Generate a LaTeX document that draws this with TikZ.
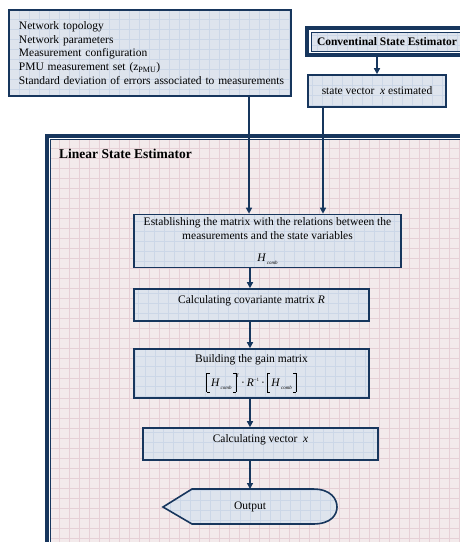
\documentclass[tikz,border=0pt]{standalone}
\usepackage{fontspec}
\setmainfont{Liberation Serif}
\usetikzlibrary{arrows.meta}
\definecolor{navy}{HTML}{17365D}
\definecolor{boxfill}{HTML}{DEE4ED}
\definecolor{boxgrid}{HTML}{CCD7E7}
\definecolor{framefill}{HTML}{F3EAEB}
\definecolor{framegrid}{HTML}{E6D0D6}
\newcommand\Hcomb{\textit{H}\raisebox{-3pt}{\fontsize{5}{5}\selectfont\textit{\,comb}}}
\newcommand\tinytxt[1]{{\fontsize{5}{5}\selectfont #1}}
\newcommand\lbrk{\raisebox{-6pt}{\rule{0.6pt}{19pt}}\raisebox{-6pt}{\rule{2.5pt}{0.6pt}}\hspace{-2.5pt}\raisebox{12.4pt}{\rule{2.5pt}{0.6pt}}\hspace{1.5pt}}
\newcommand\rbrk{\hspace{1.5pt}\raisebox{12.4pt}{\rule{2.5pt}{0.6pt}}\hspace{-2.5pt}\raisebox{-6pt}{\rule{2.5pt}{0.6pt}}\raisebox{-6pt}{\rule{0.6pt}{19pt}}}
\begin{document}
\begin{tikzpicture}[x=1pt,y=-1pt,
  gridded/.style={path picture={\draw[boxgrid,line width=0.4pt] (path picture bounding box.south west) grid[step=10pt] (path picture bounding box.north east);}},
  box/.style={draw=navy,line width=1.6pt,fill=boxfill,gridded,inner sep=2pt,
    font=\fontsize{11.5}{13.7}\selectfont,align=center},
  onelow/.style={text height=8pt,text depth=11pt},
  arr/.style={draw=navy,line width=1.4pt,-{Triangle[length=6pt,width=6pt]}},
  framestyle/.style={draw=navy,line width=4pt,fill=framefill,
    path picture={
      \draw[framegrid,line width=0.5pt] (path picture bounding box.south west) grid[step=10pt] (path picture bounding box.north east);
      \draw[white,line width=1pt] ([shift={(2.5pt,2.5pt)}]path picture bounding box.south west) rectangle ([shift={(-2.5pt,-2.5pt)}]path picture bounding box.north east);
      \draw[navy,line width=1.2pt] ([shift={(3.6pt,3.6pt)}]path picture bounding box.south west) rectangle ([shift={(-3.6pt,-3.6pt)}]path picture bounding box.north east);}},
  csestyle/.style={draw=navy,line width=4pt,fill=boxfill,
    font=\fontsize{11.5}{13}\selectfont\bfseries,
    path picture={
      \draw[boxgrid,line width=0.4pt] (path picture bounding box.south west) grid[step=10pt] (path picture bounding box.north east);
      \draw[white,line width=1.5pt] ([shift={(2.75pt,2.75pt)}]path picture bounding box.south west) rectangle ([shift={(-2.75pt,-2.75pt)}]path picture bounding box.north east);
      \draw[navy,line width=1pt] ([shift={(4pt,4pt)}]path picture bounding box.south west) rectangle ([shift={(-4pt,-4pt)}]path picture bounding box.north east);}}
]
\useasboundingbox (0,0) rectangle (460,542);
\clip (0,0) rectangle (460,542);
\fill[white] (0,0) rectangle (460,542);

% frame
\node[framestyle,minimum width=425pt,minimum height=424pt,inner sep=0pt] (frame) at (259.5,348) {};
\node[anchor=base west,font=\fontsize{13.5}{15}\selectfont\bfseries,inner sep=0pt] (lse) at (59,158) {Linear State Estimator};

% top boxes
\node[box,minimum width=282pt,minimum height=86pt,text width=262pt,align=left] (inputs) at (150,53)
 {\mbox{Network topology}\\\mbox{Network parameters}\\\mbox{Measurement configuration}\\\mbox{PMU measurement set (z\textsubscript{PMU})}\\\mbox{Standard deviation of errors associated to measurements}};
\node[csestyle,minimum width=160pt,minimum height=27pt,inner sep=0pt] (cse) at (387,41.5) {Conventinal State Estimator};
\node[box,minimum width=138pt,minimum height=32pt] (sv) at (377,91) {state vector \ \textit{x} estimated};

% flow boxes
\node[box,minimum width=267pt,minimum height=53pt] (est) at (267.5,241)
 {Establishing the matrix with the relations between the\\measurements and the state variables\\[8pt]\Hcomb};
\node[box,onelow,minimum width=235pt,minimum height=32pt] (cov) at (251.5,305) {Calculating covariante matrix \textit{R}};
\node[box,minimum width=235pt,minimum height=49pt] (gain) at (251.5,373.5)
 {Building the gain matrix\\[7pt]\lbrk\Hcomb\rbrk\raisebox{9pt}{\tinytxt{\textit{T}}}\,·\,\textit{R}\raisebox{5pt}{\tinytxt{−1}}\,·\,\lbrk\Hcomb\rbrk};
\node[box,onelow,minimum width=235pt,minimum height=32pt] (vec) at (260.5,444) {Calculating vector \ \textit{x}};

% output
\path[draw=navy,line width=1.6pt,fill=boxfill,gridded]
  (163,507) -- (192,489) -- (313,489) .. controls (331,489) and (337,499) .. (337,507)
  .. controls (337,515) and (331,524) .. (313,524) -- (192,524) -- cycle;
\node[font=\fontsize{11.5}{13}\selectfont] (out) at (250,507) {Output};
\coordinate (outtop) at (250,489);

% columns
\coordinate (a1) at (249,0);
\coordinate (b) at (323,0);
\coordinate (c) at (250,0);

% connectors
\draw[arr] (cse.south -| sv.north) -- (sv.north);
\draw[arr] (inputs.south -| a1) -- (est.north -| a1);
\draw[arr] (sv.south -| b) -- (est.north -| b);
\draw[arr] (est.south -| c) -- (cov.north -| c);
\draw[arr] (cov.south -| c) -- (gain.north -| c);
\draw[arr] (gain.south -| c) -- (vec.north -| c);
\draw[arr] (vec.south -| c) -- (outtop);
\end{tikzpicture}
\end{document}
